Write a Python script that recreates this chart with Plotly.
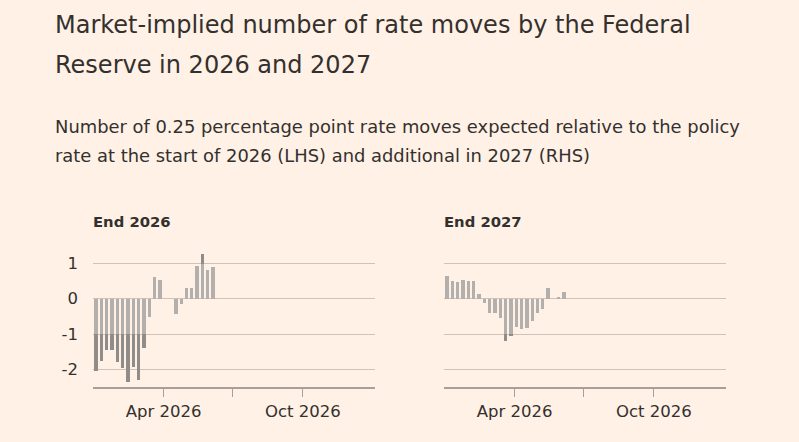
import plotly.graph_objects as go

dates = ["2026-01-02", "2026-01-09", "2026-01-16", "2026-01-23", "2026-01-30",
         "2026-02-06", "2026-02-13", "2026-02-20", "2026-02-27", "2026-03-06",
         "2026-03-13", "2026-03-20", "2026-03-27", "2026-04-03", "2026-04-10",
         "2026-04-17", "2026-04-24", "2026-05-01", "2026-05-08", "2026-05-15",
         "2026-05-22", "2026-05-29", "2026-06-05"]

end_2026 = [-2.03, -1.76, -1.44, -1.44, -1.79, -1.96, -2.34, -1.93, -2.28, -1.38,
            -0.50, 0.62, 0.55, 0.0, 0.0, -0.42, -0.15, 0.31, 0.31, 0.92,
            1.28, 0.81, 0.91]

end_2027 = [0.64, 0.50, 0.48, 0.55, 0.50, 0.50, 0.14, -0.10, -0.39, -0.41,
            -0.53, -1.20, -1.05, -0.79, -0.85, -0.81, -0.61, -0.41, -0.27, 0.32,
            0.0, 0.03, 0.19]

tick_vals = ["2026-04-01", "2026-07-01", "2026-10-01"]
tick_text = ["Apr 2026", "", "Oct 2026"]
y_vals = [1, 0, -1, -2]
y_text = ["1", "0", "-1", "-2"]

BG = "#fff1e5"
TEXT = "#33302e"
LIGHT = "#b2afac"
DARK = "#8f8c89"
GRID = "#cec3b9"
AXIS = "#a8a098"
FONT = "DejaVu Sans"

fig = go.Figure()

def split(vals):
    light = [max(-1.0, min(1.0, v)) for v in vals]
    dark = [v - l for v, l in zip(vals, light)]
    return light, dark

bar_w = 4.4 * 86400000
for vals, xa, ya in [(end_2026, "x", "y"), (end_2027, "x2", "y2")]:
    light, dark = split(vals)
    fig.add_trace(go.Bar(x=dates, y=light, xaxis=xa, yaxis=ya, width=bar_w,
                         marker=dict(color=LIGHT, line=dict(width=0)), showlegend=False))
    fig.add_trace(go.Bar(x=dates, y=dark, xaxis=xa, yaxis=ya, width=bar_w,
                         marker=dict(color=DARK, line=dict(width=0)), showlegend=False))

W, H = 799, 442
ydom = [1 - 387 / H, 1 - 245.7 / H]
xcommon = dict(type="date", range=["2025-12-29", "2027-01-04"], tickvals=tick_vals,
               ticktext=tick_text, ticks="outside", ticklen=8, tickwidth=1.2,
               tickcolor=AXIS, showline=True, linecolor=AXIS, linewidth=2,
               showgrid=False, zeroline=False,
               tickfont=dict(family=FONT, size=16.5, color=TEXT))
ycommon = dict(range=[-2.5, 1.5], tickvals=y_vals, ticktext=y_text, showgrid=True,
               gridcolor=GRID, gridwidth=1.2, zeroline=False, ticks="",
               tickfont=dict(family=FONT, size=16.5, color=TEXT))

fig.update_layout(
    width=W, height=H, margin=dict(l=0, r=0, t=0, b=0),
    paper_bgcolor=BG, plot_bgcolor=BG, barmode="relative", bargap=0,
    xaxis=dict(domain=[93 / W, 375 / W], anchor="y", **xcommon),
    yaxis=dict(domain=ydom, anchor="x", showticklabels=True, ticklabelstandoff=14, **ycommon),
    xaxis2=dict(domain=[444 / W, 726 / W], anchor="y2", **xcommon),
    yaxis2=dict(domain=ydom, anchor="x2", showticklabels=False, **ycommon),
)

def ann(text, x, y, size, bold=False):
    fig.add_annotation(text=("<b>%s</b>" % text) if bold else text,
                       x=x / W, y=1 - y / H, xref="paper", yref="paper",
                       xanchor="left", yanchor="middle", showarrow=False,
                       font=dict(family=FONT, size=size, color=TEXT))

ann("Market-implied number of rate moves by the Federal", 53, 25, 24)
ann("Reserve in 2026 and 2027", 53, 65, 24)
ann("Number of 0.25 percentage point rate moves expected relative to the policy", 53, 126, 17.9)
ann("rate at the start of 2026 (LHS) and additional in 2027 (RHS)", 53, 155, 17.9)
ann("End 2026", 91, 221, 14.8, bold=True)
ann("End 2027", 442, 221, 14.8, bold=True)

fig.write_html("out.html")
